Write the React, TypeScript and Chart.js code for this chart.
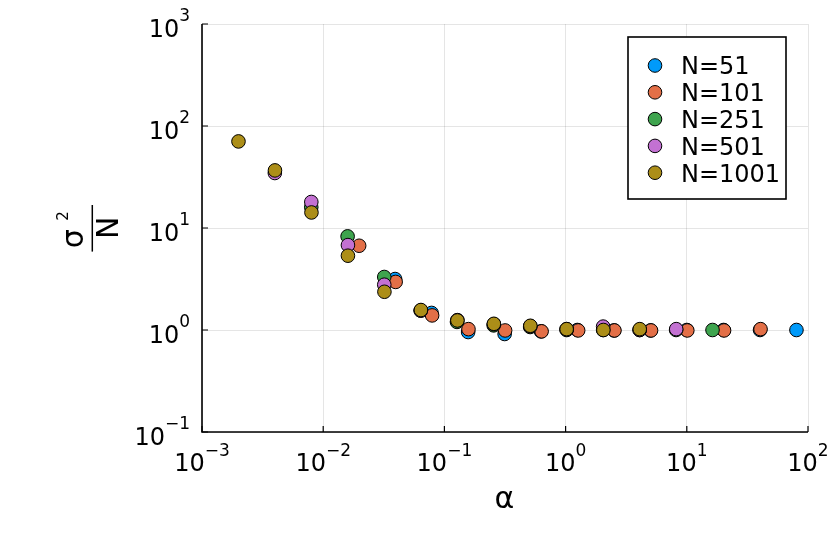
import { useEffect, useRef } from "react";
import { Chart, registerables } from "chart.js";

Chart.register(...registerables);

const seriesNames = ["N=51", "N=101", "N=251", "N=501", "N=1001"];
const seriesColors = ["#009AFA", "#E36F47", "#3EA44E", "#C371D2", "#AC8E18"];

const alpha51 = [0.0392, 0.0784, 0.157, 0.314, 0.627, 1.25, 2.51, 5.02, 10.0, 20.1, 40.2, 80.3];
const ratio51 = [3.16, 1.47, 0.955, 0.914, 0.97, 1.0, 0.99, 0.99, 1.0, 1.0, 1.0, 1.0];

const alpha101 = [0.0198, 0.0396, 0.0792, 0.158, 0.317, 0.634, 1.27, 2.53, 5.07, 10.1, 20.3, 40.6];
const ratio101 = [6.7, 2.96, 1.39, 1.02, 0.99, 0.97, 0.99, 0.99, 0.99, 0.99, 0.99, 1.02];

const alpha251 = [0.00797, 0.0159, 0.0319, 0.0637, 0.127, 0.255, 0.51, 1.02, 2.04, 4.08, 8.16, 16.3];
const ratio251 = [16.0, 8.28, 3.31, 1.55, 1.2, 1.11, 1.07, 1.0, 1.0, 1.0, 1.0, 1.0];

const alpha501 = [0.00399, 0.00798, 0.016, 0.0319, 0.0639, 0.128, 0.256, 0.511, 1.02, 2.04, 4.09, 8.18];
const ratio501 = [34.6, 18.0, 6.8, 2.78, 1.55, 1.25, 1.14, 1.09, 1.02, 1.08, 1.0, 1.02];

const alpha1001 = [0.002, 0.004, 0.008, 0.016, 0.032, 0.064, 0.128, 0.256, 0.512, 1.02, 2.05, 4.09];
const ratio1001 = [70.6, 36.7, 14.2, 5.35, 2.37, 1.57, 1.24, 1.15, 1.1, 1.02, 1.0, 1.02];

const xExponents = [-3, -2, -1, 0, 1, 2];
const yExponents = [-1, 0, 1, 2, 3];

const FONT = "'DejaVu Sans', sans-serif";

function expText(e: number) {
  return e < 0 ? "\u2212" + Math.abs(e) : String(e);
}

// "10" with a raised exponent, anchored at x (center or right edge)
function drawPower(ctx: CanvasRenderingContext2D, e: number, x: number, baseY: number, supY: number, align: "center" | "right") {
  ctx.font = `24px ${FONT}`;
  const wBase = ctx.measureText("10").width;
  ctx.font = `17px ${FONT}`;
  const sup = expText(e);
  const wSup = ctx.measureText(sup).width;
  const total = wBase + wSup;
  const left = align === "center" ? x - total / 2 : x - total;
  ctx.textAlign = "left";
  ctx.textBaseline = "alphabetic";
  ctx.font = `24px ${FONT}`;
  ctx.fillText("10", left, baseY);
  ctx.font = `17px ${FONT}`;
  ctx.fillText(sup, left + wBase, supY);
}

const decorations = {
  id: "decorations",
  beforeDatasetsDraw(chart: any) {
    const { ctx, chartArea } = chart;
    const xs = chart.scales.x;
    const ys = chart.scales.y;
    ctx.save();
    ctx.strokeStyle = "#000";
    ctx.lineWidth = 1.6;
    ctx.beginPath();
    ctx.moveTo(chartArea.left, chartArea.top);
    ctx.lineTo(chartArea.left, chartArea.bottom);
    ctx.lineTo(chartArea.right, chartArea.bottom);
    ctx.stroke();
    ctx.lineWidth = 1.2;
    ctx.beginPath();
    xExponents.forEach((e) => {
      const px = xs.getPixelForValue(Math.pow(10, e));
      ctx.moveTo(px, chartArea.bottom);
      ctx.lineTo(px, chartArea.bottom - 6);
    });
    yExponents.forEach((e) => {
      const py = ys.getPixelForValue(Math.pow(10, e));
      ctx.moveTo(chartArea.left, py);
      ctx.lineTo(chartArea.left + 6, py);
    });
    ctx.stroke();
    ctx.restore();
  },
  afterDraw(chart: any) {
    const { ctx, chartArea } = chart;
    const xs = chart.scales.x;
    const ys = chart.scales.y;
    ctx.save();
    ctx.fillStyle = "#000";

    xExponents.forEach((e) => {
      const px = xs.getPixelForValue(Math.pow(10, e));
      drawPower(ctx, e, px, chartArea.bottom + 38.7, chartArea.bottom + 24, "center");
    });
    yExponents.forEach((e) => {
      const py = ys.getPixelForValue(Math.pow(10, e));
      drawPower(ctx, e, chartArea.left - 12, py + 13, py - 2.6, "right");
    });

    // x title
    ctx.font = `30px ${FONT}`;
    ctx.textAlign = "center";
    ctx.textBaseline = "alphabetic";
    ctx.fillText("α", 504.5, 508);

    // y title: sigma^2 over N, rotated
    ctx.save();
    ctx.translate(92.3, 228.3);
    ctx.rotate(-Math.PI / 2);
    ctx.lineWidth = 1.5;
    ctx.beginPath();
    ctx.moveTo(-23.3, 0);
    ctx.lineTo(23.3, 0);
    ctx.stroke();
    ctx.textAlign = "left";
    ctx.font = `30px ${FONT}`;
    ctx.fillText("σ", -20, -9);
    ctx.font = `15px ${FONT}`;
    ctx.fillText("2", 7.5, -24);
    ctx.font = `30px ${FONT}`;
    ctx.textAlign = "center";
    ctx.fillText("N", 0.5, 26);
    ctx.restore();

    // legend
    ctx.fillStyle = "#fff";
    ctx.fillRect(628, 37, 158, 162);
    ctx.strokeStyle = "#000";
    ctx.lineWidth = 1.6;
    ctx.strokeRect(628, 37, 158, 162);
    seriesNames.forEach((name, i) => {
      const rowY = 65.5 + i * 26.8;
      ctx.beginPath();
      ctx.arc(655, rowY, 6.8, 0, Math.PI * 2);
      ctx.fillStyle = seriesColors[i];
      ctx.fill();
      ctx.lineWidth = 1;
      ctx.strokeStyle = "#000";
      ctx.stroke();
      ctx.fillStyle = "#000";
      ctx.font = `24px ${FONT}`;
      ctx.textAlign = "left";
      ctx.textBaseline = "alphabetic";
      ctx.fillText(name, 681, rowY + 8.8);
    });
    ctx.restore();
  },
};

function decadeTicks(exps: number[]) {
  return (scale: any) => {
    scale.ticks = exps.map((e) => ({ value: Math.pow(10, e) }));
  };
}

export default function App() {
  const canvasRef = useRef<HTMLCanvasElement>(null);
  const chartRef = useRef<Chart | null>(null);

  useEffect(() => {
    if (!canvasRef.current) return;
    if (chartRef.current) chartRef.current.destroy();

    const alphas = [alpha51, alpha101, alpha251, alpha501, alpha1001];
    const ratios = [ratio51, ratio101, ratio251, ratio501, ratio1001];

    const datasets = seriesNames.map((name, i) => ({
      label: name,
      data: alphas[i].map((a, j) => ({ x: a, y: ratios[i][j] })),
      backgroundColor: seriesColors[i],
      borderColor: "#000",
      borderWidth: 1,
      pointRadius: 6.8,
      order: seriesNames.length - i,
    }));

    chartRef.current = new Chart(canvasRef.current, {
      type: "scatter",
      data: { datasets },
      options: {
        responsive: false,
        animation: false,
        events: [],
        layout: { padding: { left: 202, right: 22, top: 24, bottom: 122 } },
        plugins: { legend: { display: false }, tooltip: { enabled: false } },
        scales: {
          x: {
            type: "logarithmic",
            min: 1e-3,
            max: 1e2,
            afterBuildTicks: decadeTicks(xExponents),
            ticks: { display: false },
            grid: { color: "rgba(0,0,0,0.1)", lineWidth: 1, drawTicks: false },
            border: { display: false },
          },
          y: {
            type: "logarithmic",
            min: 1e-1,
            max: 1e3,
            afterBuildTicks: decadeTicks(yExponents),
            ticks: { display: false },
            grid: { color: "rgba(0,0,0,0.1)", lineWidth: 1, drawTicks: false },
            border: { display: false },
          },
        },
      },
      plugins: [decorations],
    });

    return () => {
      if (chartRef.current) chartRef.current.destroy();
      chartRef.current = null;
    };
  }, []);

  return (
    <div style={{ position: "fixed", top: 0, left: 0, width: 830, height: 554, background: "#fff" }}>
      <canvas ref={canvasRef} width={830} height={554} />
    </div>
  );
}
